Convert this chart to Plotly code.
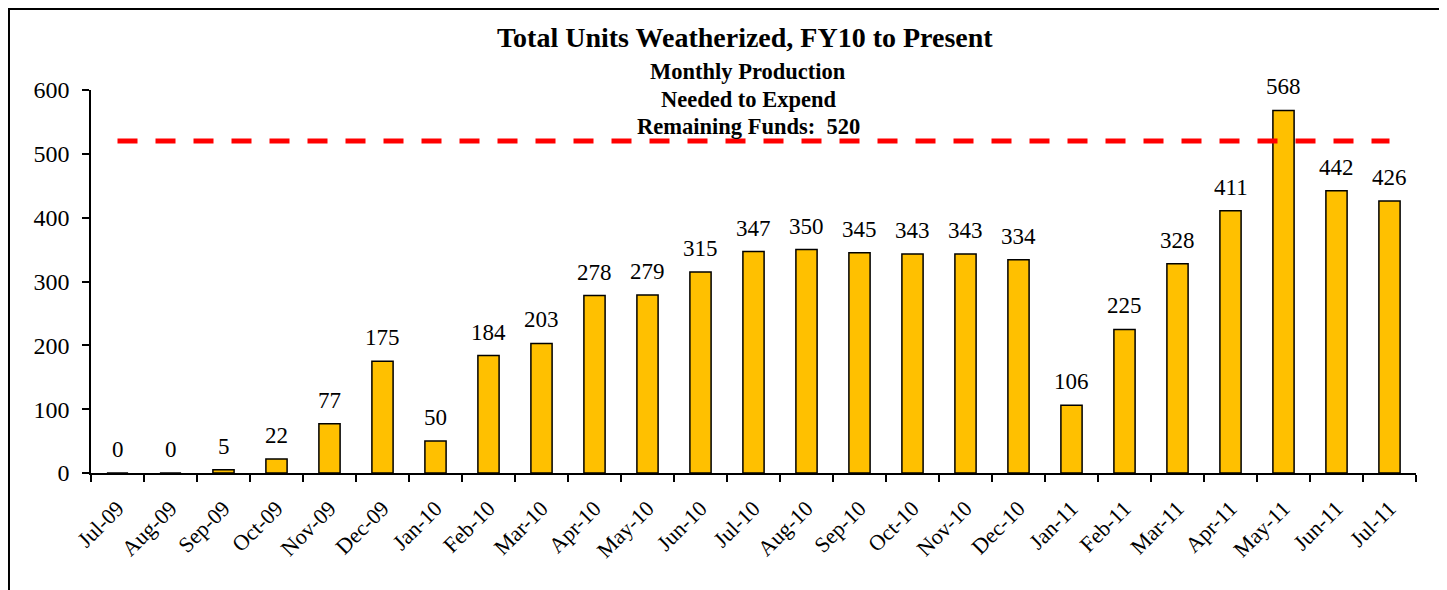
import plotly.graph_objects as go

months = ["Jul-09", "Aug-09", "Sep-09", "Oct-09", "Nov-09", "Dec-09", "Jan-10", "Feb-10",
          "Mar-10", "Apr-10", "May-10", "Jun-10", "Jul-10", "Aug-10", "Sep-10", "Oct-10",
          "Nov-10", "Dec-10", "Jan-11", "Feb-11", "Mar-11", "Apr-11", "May-11", "Jun-11", "Jul-11"]
units = [0, 0, 5, 22, 77, 175, 50, 184, 203, 278, 279, 315, 347, 350, 345, 343,
         343, 334, 106, 225, 328, 411, 568, 442, 426]
target = 520
y_ticks = [0, 100, 200, 300, 400, 500, 600]

SERIF = "Liberation Serif, Times New Roman, serif"

fig = go.Figure()
fig.add_trace(go.Bar(
    x=months, y=units,
    marker=dict(color="#FFC000", line=dict(color="black", width=1.5)),
    width=0.4,
    hoverinfo="x+y",
))
fig.add_trace(go.Scatter(
    x=months, y=[target] * len(months),
    mode="lines",
    line=dict(color="#FF0000", width=5, dash="20px,18px"),
    hoverinfo="skip",
))

annotations = []
for m, v in zip(months, units):
    annotations.append(dict(
        x=m, y=v, xref="x", yref="y", text=str(v), showarrow=False,
        yanchor="bottom", yshift=9,
        font=dict(family=SERIF, size=23, color="black"),
    ))

annotations.append(dict(
    x=0.4936, y=1.138, xref="paper", yref="paper",
    text="<b>Total Units Weatherized, FY10 to Present</b>",
    showarrow=False, xanchor="center", yanchor="middle",
    font=dict(family=SERIF, size=28, color="black"),
))
for txt, yy in [("Monthly Production", 1.0496), ("Needed to Expend", 0.9765),
                (f"Remaining Funds:  {target}", 0.906)]:
    annotations.append(dict(
        x=0.496, y=yy, xref="paper", yref="paper",
        text=f"<b>{txt}</b>", showarrow=False, xanchor="center", yanchor="middle",
        font=dict(family=SERIF, size=22.5, color="black"),
    ))

fig.update_layout(
    width=1439, height=582,
    margin=dict(l=83, r=31, t=82, b=117),
    paper_bgcolor="white", plot_bgcolor="white",
    showlegend=False,
    annotations=annotations,
    shapes=[dict(type="rect", xref="paper", yref="paper",
                 x0=-0.0619, x1=1.0204, y0=-0.4, y1=1.2115,
                 line=dict(color="black", width=2), layer="below")],
)
fig.update_xaxes(
    type="category", showgrid=False, showline=True, linecolor="black", linewidth=1.5,
    ticks="outside", ticklen=7, tickwidth=1.5, tickcolor="black", tickson="boundaries",
    tickangle=-45, tickfont=dict(family=SERIF, size=22, color="black"),
    ticklabelstandoff=12,
    range=[-0.5, len(months) - 0.5],
)
fig.update_yaxes(
    range=[0, 600], tickvals=y_ticks, showgrid=False, zeroline=False,
    showline=True, linecolor="black", linewidth=1.5,
    ticks="outside", ticklen=7, tickwidth=1.5, tickcolor="black",
    tickfont=dict(family=SERIF, size=24, color="black"),
    ticklabelstandoff=8,
)

fig.write_html("out.html")
